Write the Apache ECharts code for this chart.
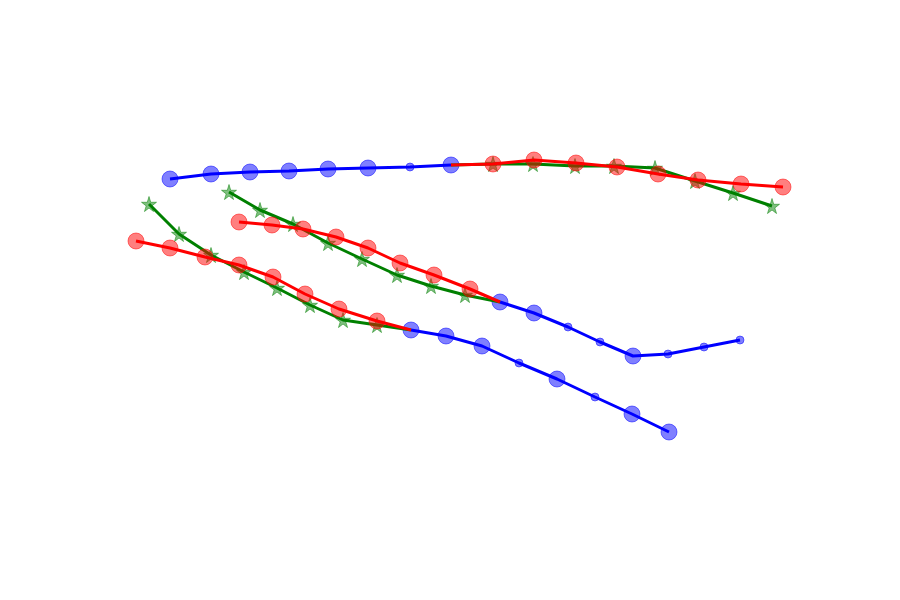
<!DOCTYPE html>
<html>
<head>
<meta charset="utf-8">
<script src="https://cdn.jsdelivr.net/npm/echarts@6/dist/echarts.min.js"></script>
<style>html,body{margin:0;padding:0;background:#fff}#c{width:900px;height:600px}</style>
</head>
<body>
<div id="c"></div>
<script>
// Projected track data (horizontal, vertical in projected plot units)
const blueTop = [[170,179],[211,174],[250,172],[289,171],[328,169],[368,168],[410,167],[451,165]];
const blueTopWeight = [1,1,1,1,1,1,0,1];
const redTop = [[451,165],[493,164],[534,160],[576,163],[617,167],[658,174],[698,180],[741,184],[783,187]];
const greenTop = [[451,165],[493,164],[533,164],[575,166],[614,166],[655,168],[695,181],[733,193],[772,206]];

const redMid = [[239,222],[272,225],[303,229],[336,237],[368,248],[400,263],[434,275],[470,289],[500,302]];
const greenMid = [[229,192],[260,210],[293,224],[328,243],[362,259],[397,275],[431,286],[465,295],[500,302]];
const blueMid = [[500,302],[534,313],[568,327],[600,342],[633,356],[668,354],[704,347],[740,340]];
const blueMidWeight = [1,1,0,0,1,0,0,0];

const redLow = [[136,241],[170,248],[205,257],[239,265],[273,277],[305,294],[339,309],[377,321],[411,330]];
const greenLow = [[149,204],[179,234],[211,255],[244,272],[277,288],[310,305],[343,320],[377,325],[411,330]];
const blueLow = [[411,330],[446,336],[482,346],[519,363],[557,379],[595,397],[632,414],[669,432]];
const blueLowWeight = [1,1,1,0,1,0,1,1];

const STAR = 'path://M50,0 L61,35 L98,35 L68,57 L79,91 L50,70 L21,91 L32,57 L2,35 L39,35 Z';
const BLUE = '#0000ff', RED = '#ff0000', GREEN = '#008000';
const FILL = { '#0000ff': 'rgba(0,0,255,0.5)', '#ff0000': 'rgba(255,0,0,0.5)', '#008000': 'rgba(0,128,0,0.5)' };

function line(data, color, z) {
  return { type: 'line', data: data, showSymbol: false, symbol: 'none', silent: true,
    lineStyle: { color: color, width: 3 }, z: z, animation: false };
}
function markers(data, color, symbol, size, z) {
  return { type: 'scatter', data: data, symbol: symbol, symbolSize: size, silent: true,
    itemStyle: { color: FILL[color], borderColor: FILL[color], borderWidth: 1, opacity: 1 }, z: z, animation: false };
}
function blueMarkers(data, weight) {
  const d = data.map((p, i) => ({ value: p, symbolSize: weight[i] ? 16 : 8 }));
  return { type: 'scatter', data: d, symbol: 'circle', silent: true,
    itemStyle: { color: FILL[BLUE], borderColor: FILL[BLUE], borderWidth: 1, opacity: 1 }, z: 1, animation: false };
}
const noStart = a => a.slice(0, a.length - 1);
const noFirst = a => a.slice(1);

const chart = echarts.init(document.getElementById('c'));
chart.setOption({
  animation: false,
  grid: { left: 0, right: 0, top: 0, bottom: 0 },
  xAxis: { type: 'value', min: 0, max: 900, show: false },
  yAxis: { type: 'value', min: 0, max: 600, inverse: true, show: false },
  series: [
    blueMarkers(blueTop, blueTopWeight),
    blueMarkers(blueMid, blueMidWeight),
    blueMarkers(blueLow, blueLowWeight),
    line(blueTop, BLUE, 2), line(blueMid, BLUE, 2), line(blueLow, BLUE, 2),
    markers(noFirst(greenTop), GREEN, STAR, 15, 3),
    markers(noStart(greenMid), GREEN, STAR, 15, 3),
    markers(noStart(greenLow), GREEN, STAR, 15, 3),
    line(greenTop, GREEN, 4), line(greenMid, GREEN, 4), line(greenLow, GREEN, 4),
    markers(noFirst(redTop), RED, 'circle', 16, 5),
    markers(noStart(redMid), RED, 'circle', 16, 5),
    markers(noStart(redLow), RED, 'circle', 16, 5),
    line(redTop, RED, 6), line(redMid, RED, 6), line(redLow, RED, 6)
  ]
});
</script>
</body>
</html>
